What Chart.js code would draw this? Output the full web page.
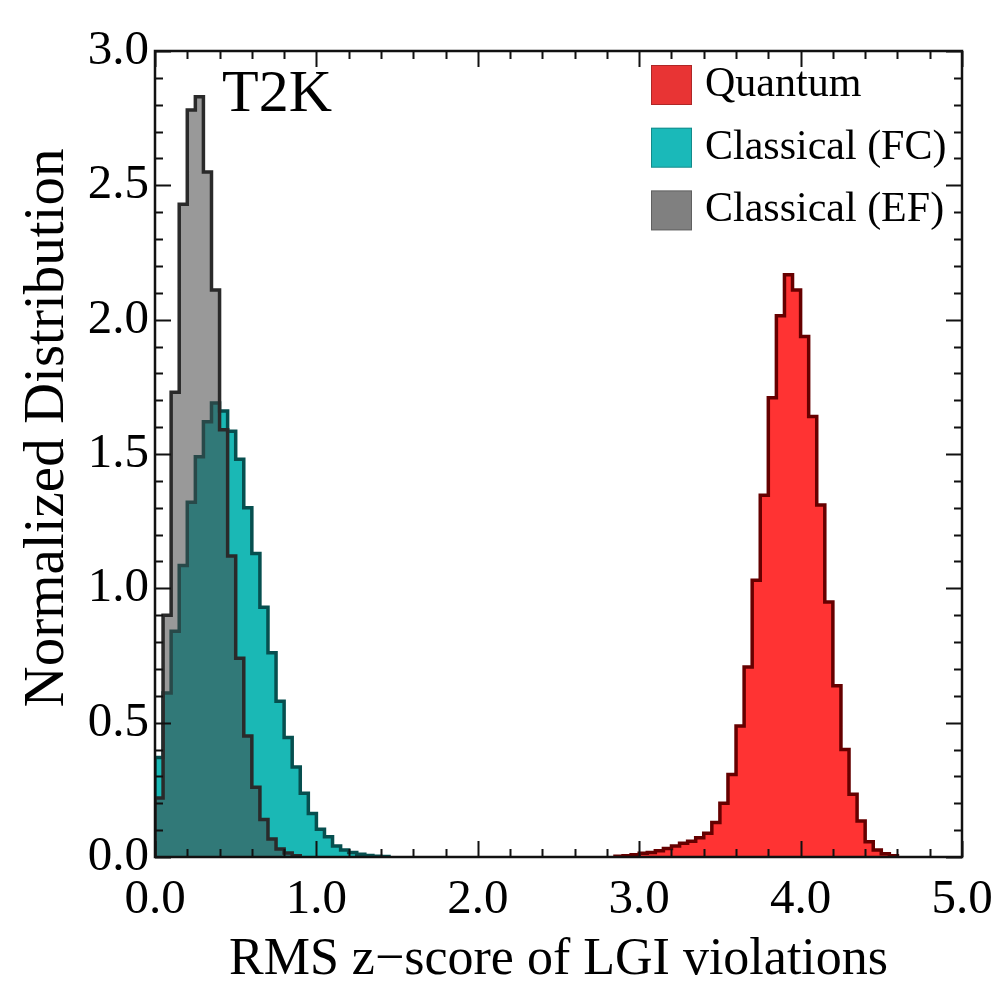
<!DOCTYPE html>
<html>
<head>
<meta charset="utf-8">
<script src="https://cdn.jsdelivr.net/npm/chart.js@4.4.1/dist/chart.umd.min.js"></script>
<style>
  html, body { margin: 0; padding: 0; background: #fff; }
  #wrap { width: 996px; height: 996px; }
</style>
</head>
<body>
<div id="wrap"><canvas id="chart1"></canvas></div>
<script>
// histogram bins, width 0.05
const binWidth = 0.05;
const quantumStart = 2.85;
const quantumValues = [0.003, 0.005, 0.008, 0.014, 0.017, 0.023, 0.032, 0.041, 0.051, 0.059,
  0.072, 0.088, 0.128, 0.20, 0.307, 0.488, 0.707, 1.03, 1.346, 1.709,
  2.015, 2.167, 2.11, 1.937, 1.64, 1.31, 0.949, 0.637, 0.40, 0.234,
  0.134, 0.057, 0.026, 0.012, 0.005];
const fcStart = 0.0;
const fcValues = [0.37, 0.61, 0.84, 1.085, 1.32, 1.49, 1.62, 1.69, 1.66, 1.585,
  1.48, 1.30, 1.13, 0.93, 0.76, 0.58, 0.445, 0.335, 0.237, 0.162,
  0.103, 0.075, 0.041, 0.026, 0.017, 0.010, 0.006, 0.003, 0.002];
const efStart = 0.0;
const efValues = [0.22, 0.90, 1.73, 2.43, 2.78, 2.83, 2.55, 2.11, 1.59, 1.12,
  0.74, 0.45, 0.26, 0.14, 0.067, 0.03, 0.015, 0.005];

const seriesNames = ["Quantum", "Classical (FC)", "Classical (EF)"];
const xTickLabels = ["0.0", "1.0", "2.0", "3.0", "4.0", "5.0"];
const yTickLabels = ["0.0", "0.5", "1.0", "1.5", "2.0", "2.5", "3.0"];
const panelLabel = "T2K";
const yTitle = "Normalized Distribution";

const SERIF = "'Liberation Serif', 'Times New Roman', serif";
const legendColors = ["#e83434", "#1ab9b9", "#808080"];

function steps(start, values) {
  const pts = [{ x: start, y: 0 }];
  values.forEach((v, i) => pts.push({ x: start + i * binWidth, y: v }));
  pts.push({ x: start + values.length * binWidth, y: 0 });
  return pts;
}

function isMultiple(v, step) {
  const k = v / step;
  return Math.abs(k - Math.round(k)) < 1e-6;
}

const frameTicks = {
  id: "frameTicks",
  afterDatasetsDraw(chart) {
    const { ctx, chartArea: a, scales: { x, y } } = chart;
    ctx.save();
    ctx.strokeStyle = "#111";
    ctx.lineWidth = 2;
    ctx.beginPath();
    x.ticks.forEach(t => {
      const px = Math.round(x.getPixelForValue(t.value)) + 0.5;
      const len = isMultiple(t.value, 1) ? 16 : 8;
      ctx.moveTo(px, a.bottom); ctx.lineTo(px, a.bottom - len);
      ctx.moveTo(px, a.top); ctx.lineTo(px, a.top + len);
    });
    y.ticks.forEach(t => {
      const py = Math.round(y.getPixelForValue(t.value)) + 0.5;
      const len = isMultiple(t.value, 0.5) ? 16 : 8;
      ctx.moveTo(a.left, py); ctx.lineTo(a.left + len, py);
      ctx.moveTo(a.right, py); ctx.lineTo(a.right - len, py);
    });
    ctx.stroke();
    ctx.lineWidth = 2.5;
    ctx.strokeRect(a.left, a.top, a.right - a.left, a.bottom - a.top);

    // panel label
    ctx.fillStyle = "#000";
    ctx.font = "60px " + SERIF;
    ctx.textBaseline = "alphabetic";
    ctx.textAlign = "left";
    ctx.fillText(panelLabel, a.left + 67, a.top + 60);

    // legend
    ctx.font = "42px " + SERIF;
    ctx.textBaseline = "middle";
    seriesNames.forEach((name, i) => {
      const bx = a.left + 496, by = a.top + 14 + i * 62.7;
      ctx.fillStyle = legendColors[i];
      ctx.fillRect(bx, by, 41, 40);
      ctx.lineWidth = 1;
      ctx.strokeStyle = "rgba(0,0,0,0.25)";
      ctx.strokeRect(bx + 0.5, by + 0.5, 40, 39);
      ctx.fillStyle = "#000";
      ctx.fillText(name, bx + 54, by + 20);
    });

    // y axis title
    ctx.save();
    ctx.translate(48, 428);
    ctx.rotate(-Math.PI / 2);
    ctx.font = "57px " + SERIF;
    ctx.textAlign = "center";
    ctx.textBaseline = "middle";
    ctx.fillText(yTitle, 0, 0);
    ctx.restore();

    ctx.restore();
  }
};

Chart.defaults.font.family = SERIF;
Chart.defaults.color = "#000";

const ctx = document.getElementById("chart1").getContext("2d");
const chart = new Chart(ctx, {
  type: "line",
  data: {
    datasets: [
      {
        label: seriesNames[0],
        data: steps(quantumStart, quantumValues),
        stepped: true,
        fill: "origin",
        backgroundColor: "rgb(255,51,51)",
        borderColor: "#660000",
        borderWidth: 3.5,
        pointRadius: 0,
        order: 2
      },
      {
        label: seriesNames[1],
        data: steps(fcStart, fcValues),
        stepped: true,
        fill: "origin",
        backgroundColor: "rgb(26,184,181)",
        borderColor: "#064f4f",
        borderWidth: 3.5,
        pointRadius: 0,
        order: 1
      },
      {
        label: seriesNames[2],
        data: steps(efStart, efValues),
        stepped: true,
        fill: "origin",
        backgroundColor: "rgba(70,70,70,0.55)",
        borderColor: "#2a2a2a",
        borderWidth: 3.5,
        pointRadius: 0,
        order: 0
      }
    ]
  },
  options: {
    responsive: true,
    maintainAspectRatio: false,
    animation: false,
    layout: { padding: { left: 0, right: 34, top: 51, bottom: 0 } },
    plugins: { legend: { display: false }, tooltip: { enabled: false } },
    scales: {
      x: {
        type: "linear",
        min: 0, max: 5,
        grid: { display: false, drawTicks: false },
        border: { display: false },
        ticks: {
          stepSize: 0.2,
          autoSkip: false,
          maxRotation: 0,
          padding: 14,
          font: { size: 49 },
          callback: v => isMultiple(v, 1) ? xTickLabels[Math.round(v)] : ""
        },
        title: {
          display: true,
          text: "RMS z\u2212score of LGI violations",
          font: { size: 52 },
          padding: { top: 0, bottom: 4 }
        },
        afterFit: s => { s.height = 139; s.paddingLeft = 0; s.paddingRight = 0; }
      },
      y: {
        min: 0, max: 3,
        grid: { display: false, drawTicks: false },
        border: { display: false },
        ticks: {
          stepSize: 0.1,
          autoSkip: false,
          padding: 6,
          font: { size: 49 },
          callback: v => isMultiple(v, 0.5) ? yTickLabels[Math.round(v * 2)] : ""
        },
        afterFit: s => { s.width = 155; s.paddingTop = 0; s.paddingBottom = 0; }
      }
    }
  },
  plugins: [frameTicks]
});
</script>
</body>
</html>
